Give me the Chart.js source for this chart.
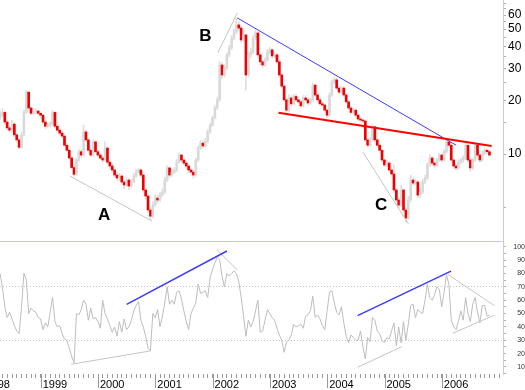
<!DOCTYPE html>
<html><head><meta charset="utf-8">
<script src="https://cdn.jsdelivr.net/npm/chart.js@4.4.1/dist/chart.umd.min.js"></script>
<style>
html,body{margin:0;padding:0;background:#fff;overflow:hidden;}
#wrap{position:relative;width:525px;height:390px;overflow:hidden;background:#fff;}
#c1{position:absolute;left:-30px;top:0;}
#c2{position:absolute;left:-30px;top:241px;}
</style></head><body>
<div id="wrap">
<canvas id="c1" width="555" height="241" style="width:555px;height:241px"></canvas>
<canvas id="c2" width="555" height="149" style="width:555px;height:149px"></canvas>
</div>
<script>
// ---------- data (semi-monthly bars, first bar ~ April 1998) ----------
const firstBarYear = 1998.29;
const barsPerYear = 24;
const firstOpen = 16.0;
const closes = [
 16.5,17.1,15.1,14.0,13.6,14.7,12.8,12.0,10.9,12.8,
 17.1,22.2,18.1,16.9,17.1,17.4,16.9,16.5,15.1,14.3,
 14.5,14.7,17.1,14.3,13.6,13.1,12.6,11.2,10.5,9.5,
 8.4,7.7,9.26,10.3,9.87,13.3,12.0,10.5,9.87,11.7,
 10.3,9.87,9.5,9.26,10.8,9.0,8.57,8.14,7.63,7.34,
 7.53,6.97,6.71,7.15,6.62,6.97,7.53,7.92,8.14,7.63,
 6.29,5.82,4.86,4.49,5.18,5.67,5.53,5.89,6.13,7.15,
 8.36,7.63,7.92,8.14,9.02,9.87,9.26,8.9,8.57,8.14,
 7.92,7.63,9.26,10.8,11.5,11.1,11.8,13.3,14.5,15.9,
 18.1,20.1,31.5,27.7,30.3,35.9,39.3,44.6,48.2,52.8,
 50.7,43.5,46.4,27.7,35.9,37.3,44.6,47.6,35.9,32.8,
 31.5,33.6,37.3,38.3,35.4,35.9,32.8,27.7,24.0,20.1,
 17.6,20.6,19.1,21.0,20.1,19.6,18.6,20.6,20.1,19.3,
 20.1,24.3,21.4,20.1,19.1,18.8,17.6,16.5,21.4,25.3,
 26.0,23.4,22.2,23.4,21.4,19.6,18.1,17.1,17.6,16.5,
 15.7,15.5,15.3,12.0,11.2,12.0,14.2,12.0,11.2,10.5,
 9.26,8.68,8.9,8.14,7.73,6.29,5.53,5.18,6.29,4.86,
 4.38,5.53,7.15,6.88,6.97,5.89,6.13,6.97,7.34,8.68,
 9.5,8.9,8.68,9.26,9.87,9.26,10.3,11.7,11.2,9.26,
 8.57,8.36,9.02,9.26,9.5,11.2,9.26,8.36,9.26,11.2,
 9.87,9.26,10.1,10.5,10.3,9.87];
const highs = [
 17.5,18.0,17.4,15.5,14.3,15.5,15.0,13.1,12.2,13.2,
 17.6,22.8,22.5,18.4,17.7,17.9,17.7,17.1,16.7,15.4,
 14.9,15.1,17.6,17.3,14.6,13.9,13.4,12.8,11.5,10.7,
 9.7,8.6,9.5,10.6,10.6,14.5,13.6,12.2,10.8,12.0,
 11.9,10.5,10.1,9.7,11.7,11.0,9.2,8.8,8.3,7.9,
 7.8,7.7,7.1,7.4,7.3,7.2,7.8,8.2,8.3,8.3,
 7.7,6.4,5.9,5.0,5.4,5.9,5.9,6.1,6.4,7.4,
 8.6,8.5,8.2,8.4,9.3,10.1,10.0,9.4,9.1,8.7,
 8.3,8.1,9.5,11.1,11.9,11.8,12.2,13.7,14.9,16.4,
 18.7,20.8,33.0,32.5,31.5,37.0,40.5,46.0,50.0,58.0,
 55.0,52.0,49.0,47.0,37.0,39.0,46.0,49.5,48.5,36.5,
 33.5,34.5,38.5,39.5,39.0,37.0,36.5,33.5,28.2,24.5,
 20.6,21.5,21.2,21.6,21.6,20.6,20.0,21.2,21.2,20.6,
 20.6,25.0,24.6,21.8,20.5,19.5,19.1,17.9,22.0,26.0,
 27.0,26.5,23.8,24.0,23.8,21.8,20.0,18.5,18.0,17.9,
 16.8,16.0,15.8,15.5,12.3,12.4,14.6,14.4,12.2,11.4,
 10.7,9.4,9.2,9.1,8.3,8.7,6.4,5.7,6.7,6.4,
 5.0,5.8,7.6,7.4,7.2,7.1,6.4,7.2,7.6,8.9,
 9.9,9.7,9.1,9.5,10.1,10.0,10.6,12.0,11.9,11.4,
 9.4,8.8,9.3,9.5,9.8,11.5,11.3,9.4,9.5,11.5,
 11.3,10.0,10.4,10.8,10.7,10.5];
const lows = [
 15.6,16.2,14.6,13.6,13.2,13.3,12.5,11.7,10.7,10.8,
 12.6,16.9,17.6,16.5,16.6,16.8,16.5,16.0,14.8,13.9,
 14.0,14.2,14.5,14.0,13.3,12.8,12.3,11.0,10.3,9.3,
 8.2,7.5,7.6,9.1,9.6,9.7,11.7,10.2,9.6,9.7,
 10.1,9.6,9.3,9.0,9.1,8.8,8.3,7.9,7.4,7.1,
 7.1,6.8,6.4,6.6,6.3,6.5,6.9,7.4,7.8,7.4,
 6.1,5.6,4.7,4.27,4.4,5.1,5.3,5.4,5.8,6.0,
 7.0,7.4,7.5,7.8,8.0,8.9,9.0,8.7,8.3,7.9,
 7.7,7.34,7.5,9.1,10.6,10.8,10.9,11.6,13.1,14.3,
 15.7,17.8,19.8,26.5,27.0,29.8,35.0,38.5,43.5,47.0,
 49.0,42.0,42.5,22.8,27.0,34.5,36.5,43.5,34.5,31.5,
 30.5,30.8,33.0,36.5,34.5,34.5,32.0,27.0,23.4,19.6,
 17.1,17.2,18.6,18.8,19.6,19.1,18.2,18.3,19.6,18.8,
 18.9,19.8,21.0,19.6,18.7,18.3,17.2,16.0,16.3,21.0,
 24.8,23.0,21.8,21.8,21.0,19.2,17.7,16.7,16.8,16.2,
 15.4,15.2,15.0,11.7,10.9,11.0,11.8,11.7,10.9,10.2,
 9.0,8.5,8.5,8.0,7.5,6.1,5.4,5.0,5.1,4.7,
 4.15,4.3,5.4,6.7,6.7,5.7,5.7,6.0,6.8,7.2,
 8.5,8.6,8.4,8.5,9.1,9.0,9.1,10.1,10.9,9.0,
 8.3,8.1,8.2,8.8,9.0,9.3,9.0,8.0,8.2,9.1,
 9.6,9.0,9.1,9.9,10.0,9.7];
const rsi = [
 80,70,55,47,51,46,41,37,35,55,
 80,75,50,54,52,51,47,46,38,43,
 40,51,62,44,40,41,35,31,30,24,
 18,13,50,49,53,60,57,45,54,46,
 47,44,39,60,50,46,41,36,40,33,
 44,36,46,38,40,45,52,56,59,45,
 40,33,24,22,50,47,53,40,48,58,
 70,57,60,57,66,67,61,52,44,38,
 50,54,58,72,65,66,67,62,77,83,
 88,92,90,78,70,80,78,80,82,80,
 74,62,48,33,45,40,44,52,60,36,
 37,45,53,50,47,45,39,34,30,21,
 29,30,34,42,40,41,42,39,48,49,
 52,63,47,49,46,41,38,52,66,67,
 58,51,49,55,43,33,28,34,32,30,
 30,37,25,16,32,29,47,45,37,35,
 30,28,32,31,37,43,26,40,28,44,
 30,42,56,57,47,53,51,50,60,72,
 62,60,64,70,68,55,66,79,72,45,
 40,38,44,52,45,62,50,44,57,62,
 51,43,56,56,48,49];

// trend lines: [year, value] end points
const priceTrendA    = [[1999.51, 7.53], [2000.94, 4.22]];
const priceTrendB    = [[2002.09, 36.8], [2002.43, 61.6]];
const priceDownBlue  = [[2002.43, 57.8], [2006.25, 11.2]];
const priceRedLine   = [[2003.15, 17.0], [2006.87, 11.1]];
const priceTrendC    = [[2004.62, 10.3], [2005.42, 4.05]];
const rsiLowLine1    = [[1999.53, 12.0], [2000.91, 22.0]];
const rsiBlueLine1   = [[2000.50, 56.9], [2002.25, 96.8]];
const rsiDivLine     = [[2002.07, 98.1], [2002.43, 82.6]];
const rsiBlueLine2   = [[2004.53, 48.4], [2006.16, 81.8]];
const rsiLowLine2    = [[2004.53, 9.8],  [2005.30, 25.2]];
const rsiTriTop      = [[2006.10, 79.4], [2006.92, 55.9]];
const rsiTriBottom   = [[2006.19, 35.2], [2006.92, 48.9]];

// wave labels
const waveLabels = ['A', 'B', 'C'];
const waveLabelPoints = [[2000.105, 4.52], [2001.876, 45.3], [2004.94, 5.14]];

// axis ticks / labels
const priceAxisTicks = [5,10,15,20,25,30,35,40,45,50,55,60,65,70];
const priceTickLabels = [10,20,30,40,50,60];
const rsiAxisTicks = [5,10,15,20,25,30,35,40,45,50,55,60,65,70,75,80,85,90,95,100];
const rsiTickLabels = [10,20,30,40,50,60,70,80,90,100];
const rsiGuideLevels = [30,70];
const yearLabels = [1998,1999,2000,2001,2002,2003,2004,2005,2006];

// ---------- derived ----------
const xMin = 1997.766, xMax = 2007.068;
const dates = closes.map((_, i) => firstBarYear + i / barsPerYear);
const opens = closes.map((c, i) => i === 0 ? firstOpen : closes[i - 1]);
const toXY = pts => pts.map(p => ({x: p[0], y: p[1]}));
const monthTicks = [];
for (let m = Math.ceil(xMin * 12); m / 12 <= xMax; m++) monthTicks.push(m / 12);

const FONT = '"Liberation Sans", Arial, Helvetica, sans-serif';
Chart.defaults.font.family = FONT;
Chart.defaults.animation = false;

function lineDS(pts, color, width, yID) {
  return {type: 'line', data: toXY(pts), borderColor: color, borderWidth: width,
          pointRadius: 0, tension: 0, fill: false, order: 0, yAxisID: yID || 'y', clip: false};
}

const waveLabelPlugin = {
  id: 'waveLabels',
  afterDatasetsDraw(chart) {
    const {ctx, scales: {x, y}} = chart;
    ctx.save();
    ctx.font = 'bold 17px ' + FONT;
    ctx.fillStyle = '#000';
    ctx.textAlign = 'center';
    ctx.textBaseline = 'middle';
    waveLabels.forEach((t, i) => {
      ctx.fillText(t, x.getPixelForValue(waveLabelPoints[i][0]), y.getPixelForValue(waveLabelPoints[i][1]));
    });
    ctx.restore();
  }
};

new Chart(document.getElementById('c1'), {
  type: 'bar',
  data: {
    datasets: [
      lineDS(priceRedLine, '#ff0000', 2),
      lineDS(priceDownBlue, '#3c3cff', 1),
      lineDS(priceTrendA, '#c4c4c4', 1),
      lineDS(priceTrendB, '#c4c4c4', 1),
      lineDS(priceTrendC, '#c4c4c4', 1),
      {type: 'bar', data: dates.map((d, i) => ({x: d, y: [opens[i], closes[i]]})),
       backgroundColor: closes.map((c, i) => c < opens[i] ? '#f00000' : '#d9d9d9'),
       barThickness: 2, grouped: false, borderWidth: 0, order: 1},
      {type: 'bar', data: dates.map((d, i) => ({x: d, y: [lows[i], highs[i]]})),
       backgroundColor: '#dedede', barThickness: 1, grouped: false, borderWidth: 0, order: 2}
    ]
  },
  options: {
    responsive: false, maintainAspectRatio: false,
    layout: {padding: 0},
    plugins: {legend: {display: false}, tooltip: {enabled: false}},
    scales: {
      x: {type: 'linear', min: xMin, max: xMax, display: false, offset: false},
      y: {
        type: 'logarithmic', position: 'right', min: 3.26, max: 72.8,
        afterBuildTicks: s => { s.ticks = priceAxisTicks.map(v => ({value: v})); },
        afterFit: s => { s.width = 22; s.paddingTop = 0; s.paddingBottom = 0; },
        ticks: {autoSkip: false, padding: 2, color: '#000', font: {size: 12},
                callback: v => priceTickLabels.includes(v) ? String(v) : ''},
        grid: {drawOnChartArea: false, tickLength: 3, tickColor: '#b0b0b0'},
        border: {display: true, color: '#cccccc'}
      }
    }
  },
  plugins: [waveLabelPlugin]
});

const panelDecor = {
  id: 'panelDecor',
  beforeDatasetsDraw(chart) {
    const {ctx, chartArea: a} = chart;
    ctx.save();
    ctx.strokeStyle = '#c4c4f4';
    ctx.lineWidth = 1;
    ctx.beginPath();
    ctx.moveTo(a.left, a.top + 0.5);
    ctx.lineTo(a.right, a.top + 0.5);
    ctx.stroke();
    ctx.restore();
  },
  afterDraw(chart) {
    const {ctx, chartArea: a, scales: {x}} = chart;
    ctx.save();
    ctx.strokeStyle = '#999';
    ctx.lineWidth = 1;
    yearLabels.forEach(yr => {
      const px = Math.round(x.getPixelForValue(yr)) + 0.5;
      ctx.beginPath();
      ctx.moveTo(px, a.bottom);
      ctx.lineTo(px, a.bottom + 14);
      ctx.stroke();
    });
    ctx.restore();
  }
};

new Chart(document.getElementById('c2'), {
  type: 'line',
  data: {
    datasets: [
      lineDS(rsiBlueLine1, '#3c3cff', 1.5),
      lineDS(rsiBlueLine2, '#3c3cff', 1.5),
      lineDS(rsiLowLine1, '#c4c4c4', 1),
      lineDS(rsiDivLine, '#c4c4c4', 1),
      lineDS(rsiLowLine2, '#c4c4c4', 1),
      lineDS(rsiTriTop, '#c4c4c4', 1),
      lineDS(rsiTriBottom, '#c4c4c4', 1),
      {type: 'line', data: dates.map((d, i) => ({x: d, y: rsi[i]})), borderColor: '#bdbdbd',
       borderWidth: 1, pointRadius: 0, tension: 0, fill: false, order: 1}
    ]
  },
  options: {
    responsive: false, maintainAspectRatio: false,
    layout: {padding: 0},
    plugins: {legend: {display: false}, tooltip: {enabled: false}},
    scales: {
      x: {
        type: 'linear', min: xMin, max: xMax, position: 'bottom', offset: false,
        afterBuildTicks: s => { s.ticks = monthTicks.map(v => ({value: v})); },
        afterFit: s => { s.height = 16; s.paddingLeft = 0; s.paddingRight = 0; },
        ticks: {autoSkip: false, maxRotation: 0, minRotation: 0, align: 'start', labelOffset: 2,
                padding: 0, color: '#000', font: {size: 11},
                callback: v => { const y = Math.round(v); return (Math.abs(v - y) < 1e-6 && yearLabels.includes(y)) ? String(y) : ''; }},
        grid: {drawOnChartArea: false, tickLength: 4, tickColor: '#999'},
        border: {display: false}
      },
      y: {
        type: 'linear', position: 'right', min: 4.76, max: 104.3,
        afterBuildTicks: s => { s.ticks = rsiAxisTicks.map(v => ({value: v})); },
        afterFit: s => { s.width = 22; s.paddingTop = 0; s.paddingBottom = 0; },
        ticks: {autoSkip: false, padding: 4, crossAlign: 'far', color: '#333', font: {size: 7},
                callback: v => rsiTickLabels.includes(v) ? String(v) : ''},
        grid: {drawOnChartArea: true, tickLength: 3, tickColor: '#b0b0b0',
               color: c => (c.tick && rsiGuideLevels.includes(c.tick.value)) ? '#c4c4c4' : 'rgba(0,0,0,0)'},
        border: {display: true, color: '#cccccc', dash: [1, 2]}
      }
    }
  },
  plugins: [panelDecor]
});
</script>
</body></html>
